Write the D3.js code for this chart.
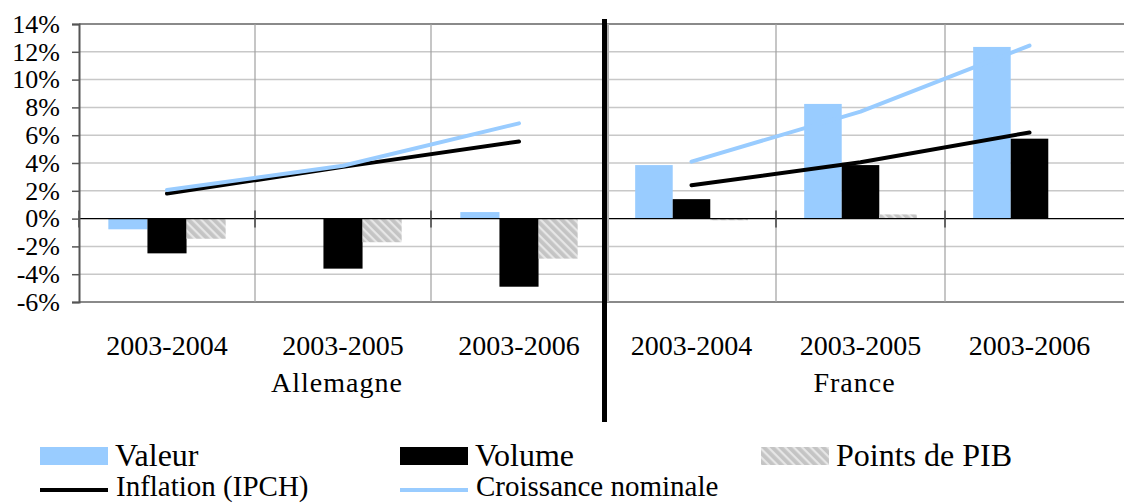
<!DOCTYPE html>
<html>
<head>
<meta charset="utf-8">
<script src="https://cdn.jsdelivr.net/npm/d3@7"></script>
<style>
  html, body { margin: 0; padding: 0; background: #fff; }
  svg { display: block; }
  svg text { font-family: "Liberation Serif", "DejaVu Serif", "Noto Serif", "Times New Roman", Times, serif !important; fill: #000; }
</style>
</head>
<body>
<svg id="chart" width="1124" height="504"></svg>
<script>
// ---- data ----
const periods = ["2003-2004", "2003-2005", "2003-2006"];
const countries = ["Allemagne", "France"];
const barSeries = ["Valeur", "Volume", "Points de PIB"];
const lineSeries = ["Inflation (IPCH)", "Croissance nominale"];

const valeurDE = [-0.77, 0.0, 0.47];
const volumeDE = [-2.5, -3.6, -4.9];
const pibDE = [-1.45, -1.7, -2.88];
const inflationDE = [1.8, 3.72, 5.55];
const croissanceDE = [2.05, 3.8, 6.85];

const valeurFR = [3.85, 8.25, 12.35];
const volumeFR = [1.4, 3.85, 5.75];
const pibFR = [-0.12, 0.3, 0.0];
const inflationFR = [2.4, 4.05, 6.2];
const croissanceFR = [4.1, 7.7, 12.45];

const yTicks = [-6, -4, -2, 0, 2, 4, 6, 8, 10, 12, 14];

// ---- setup ----
const FONT = "'Liberation Serif', 'DejaVu Serif', serif";
const svg = d3.select("#chart");
const colors = { "Valeur": "#99CCFF", "Volume": "#000000", "Points de PIB": "url(#hatch)" };
const lineColors = { "Inflation (IPCH)": "#000000", "Croissance nominale": "#99CCFF" };

const defs = svg.append("defs");
const pat = defs.append("pattern").attr("id", "hatch").attr("patternUnits", "userSpaceOnUse")
  .attr("width", 6).attr("height", 6).attr("patternTransform", "rotate(45)");
pat.append("rect").attr("width", 6).attr("height", 6).attr("fill", "#c4c4c4");
pat.append("rect").attr("width", 6).attr("height", 2.2).attr("fill", "#e6e6e6");

const plotTop = 24, plotBottom = 302, plotLeft = 79, plotRight = 1124;
const y = d3.scaleLinear().domain([-6, 14]).range([plotBottom, plotTop]);

const panels = [
  { name: countries[0], range: [79, 607], data: { "Valeur": valeurDE, "Volume": volumeDE, "Points de PIB": pibDE, "Inflation (IPCH)": inflationDE, "Croissance nominale": croissanceDE } },
  { name: countries[1], range: [607, 1114], data: { "Valeur": valeurFR, "Volume": volumeFR, "Points de PIB": pibFR, "Inflation (IPCH)": inflationFR, "Croissance nominale": croissanceFR } }
];

// horizontal gridlines
svg.append("g").selectAll("line").data(yTicks.filter(t => t !== 0 && t !== 14 && t !== -6)).join("line")
  .attr("x1", plotLeft).attr("x2", plotRight)
  .attr("y1", d => y(d)).attr("y2", d => y(d))
  .attr("stroke", "#c8c8c8").attr("stroke-width", 1.5);
// top/bottom border
[14, -6].forEach(t => {
  svg.append("line").attr("x1", plotLeft).attr("x2", plotRight).attr("y1", y(t)).attr("y2", y(t))
    .attr("stroke", "#8a8a8a").attr("stroke-width", 2);
});

panels.forEach(p => {
  const x0 = d3.scaleBand().domain(periods).range(p.range).paddingInner(0).paddingOuter(0);
  const x1 = d3.scaleBand().domain(barSeries).range([0, x0.bandwidth()]).paddingInner(0).paddingOuter(0.75);
  p.x0 = x0;
  const bounds = periods.slice(1).map(d => x0(d));
  svg.append("g").selectAll("line").data(bounds).join("line")
    .attr("x1", d => d).attr("x2", d => d).attr("y1", plotTop).attr("y2", plotBottom)
    .attr("stroke", "#a0a0a0").attr("stroke-width", 1.2);
  const g = svg.append("g");
  periods.forEach((per, i) => {
    barSeries.forEach(s => {
      const v = p.data[s][i];
      g.append("rect")
        .attr("x", x0(per) + x1(s)).attr("width", x1.bandwidth())
        .attr("y", y(Math.max(0, v))).attr("height", Math.abs(y(v) - y(0)))
        .attr("fill", colors[s]);
    });
  });
});

// zero line
svg.append("line").attr("x1", plotLeft).attr("x2", plotRight).attr("y1", y(0)).attr("y2", y(0))
  .attr("stroke", "#000").attr("stroke-width", 1.2);
panels.forEach(p => {
  const xs = periods.map(d => p.x0(d));
  svg.append("g").selectAll("line").data(xs).join("line")
    .attr("x1", d => d).attr("x2", d => d).attr("y1", y(0) - 8).attr("y2", y(0) + 9)
    .attr("stroke", "#444").attr("stroke-width", 1.5);
});

// lines
panels.forEach(p => {
  lineSeries.forEach(s => {
    const line = d3.line().x((d, i) => p.x0(periods[i]) + p.x0.bandwidth() / 2).y(d => y(d));
    svg.append("path").datum(p.data[s]).attr("d", line)
      .attr("fill", "none").attr("stroke", lineColors[s]).attr("stroke-width", 4)
      .attr("stroke-linecap", "round").attr("stroke-linejoin", "round");
  });
});

// left y axis
const yAxis = d3.axisLeft(y).tickValues(yTicks).tickSize(7).tickPadding(12).tickFormat(d => d + "%");
const ya = svg.append("g").attr("transform", `translate(${plotLeft},0)`).call(yAxis)
  .attr("font-family", FONT).attr("font-size", 26);
ya.select(".domain").attr("stroke", "#555").attr("stroke-width", 2);
ya.selectAll(".tick line").attr("stroke", "#555").attr("stroke-width", 1.5);
ya.selectAll(".tick text").attr("fill", "#000");

// France left axis (light gray)
svg.append("line").attr("x1", 608).attr("x2", 608).attr("y1", plotTop).attr("y2", plotBottom)
  .attr("stroke", "#b0b0b0").attr("stroke-width", 2);

// x labels
panels.forEach(p => {
  svg.append("g").selectAll("text").data(periods).join("text")
    .attr("x", d => p.x0(d) + p.x0.bandwidth() / 2).attr("y", 355)
    .attr("text-anchor", "middle").attr("font-family", FONT).attr("font-size", 28).text(d => d);
  svg.append("text").attr("x", (p.range[0] + p.range[1]) / 2 - 6).attr("y", 392)
    .attr("text-anchor", "middle").attr("font-family", FONT).attr("font-size", 28).attr("letter-spacing", 1)
    .text(p.name);
});

// separator
svg.append("rect").attr("x", 602).attr("y", 19).attr("width", 5).attr("height", 403).attr("fill", "#000");

// legend
const legBars = [
  { name: barSeries[0], x: 40 }, { name: barSeries[1], x: 400 }, { name: barSeries[2], x: 761 }
];
legBars.forEach(l => {
  svg.append("rect").attr("x", l.x).attr("y", 447).attr("width", 68).attr("height", 18).attr("fill", colors[l.name]);
  svg.append("text").attr("x", l.x + 75).attr("y", 466).attr("font-family", FONT).attr("font-size", 32).text(l.name);
});
const legLines = [{ name: lineSeries[0], x: 40 }, { name: lineSeries[1], x: 400 }];
legLines.forEach(l => {
  svg.append("line").attr("x1", l.x).attr("x2", l.x + 68).attr("y1", 490).attr("y2", 490)
    .attr("stroke", lineColors[l.name]).attr("stroke-width", 4);
  svg.append("text").attr("x", l.x + 76).attr("y", 496).attr("font-family", FONT).attr("font-size", 29).text(l.name);
});
</script>
</body>
</html>
